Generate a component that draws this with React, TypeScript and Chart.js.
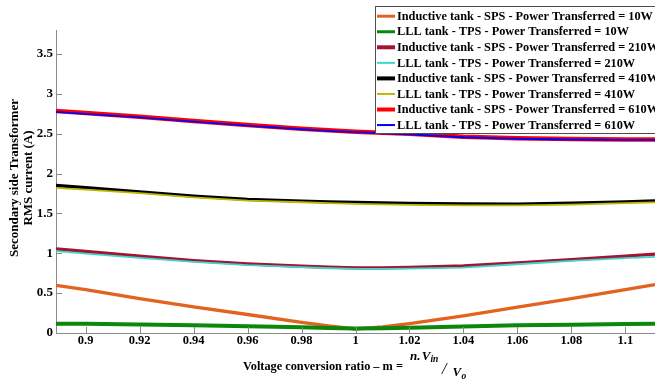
import React, { useEffect, useRef } from "react";
import { Chart, registerables } from "chart.js";

Chart.register(...registerables);

// ---- data ----
const mValues = [0.889, 0.9, 0.92, 0.94, 0.96, 0.98, 0.99, 1.0, 1.01, 1.02, 1.04, 1.06, 1.08, 1.1, 1.111];

const inductiveSps10 = [0.598, 0.545, 0.432, 0.327, 0.232, 0.134, 0.088, 0.05, 0.078, 0.118, 0.215, 0.325, 0.43, 0.545, 0.607];
const lllTps10 = [0.117, 0.115, 0.108, 0.097, 0.085, 0.071, 0.063, 0.055, 0.06, 0.067, 0.083, 0.096, 0.104, 0.113, 0.117];
const inductiveSps210 = [1.055, 1.022, 0.963, 0.908, 0.866, 0.837, 0.825, 0.816, 0.817, 0.822, 0.843, 0.879, 0.921, 0.963, 0.99];
const lllTps210 = [1.026, 0.995, 0.942, 0.892, 0.85, 0.825, 0.812, 0.804, 0.804, 0.808, 0.82, 0.862, 0.904, 0.938, 0.955];
const inductiveSps410 = [1.85, 1.822, 1.771, 1.717, 1.677, 1.655, 1.645, 1.638, 1.632, 1.625, 1.618, 1.617, 1.628, 1.645, 1.658];
const lllTps410 = [1.82, 1.798, 1.755, 1.7, 1.66, 1.64, 1.628, 1.62, 1.614, 1.607, 1.6, 1.6, 1.61, 1.628, 1.638];
const inductiveSps610 = [2.784, 2.76, 2.713, 2.659, 2.608, 2.563, 2.543, 2.525, 2.512, 2.5, 2.462, 2.441, 2.432, 2.428, 2.428];
const lllTps610 = [2.772, 2.749, 2.703, 2.65, 2.6, 2.555, 2.535, 2.518, 2.505, 2.492, 2.455, 2.436, 2.427, 2.423, 2.423];

const seriesLabels = [
  "Inductive tank - SPS - Power Transferred = 10W",
  "LLL tank - TPS - Power Transferred = 10W",
  "Inductive tank - SPS - Power Transferred = 210W",
  "LLL tank - TPS - Power Transferred = 210W",
  "Inductive tank - SPS - Power Transferred = 410W",
  "LLL tank - TPS - Power Transferred = 410W",
  "Inductive tank - SPS - Power Transferred = 610W",
  "LLL tank - TPS - Power Transferred = 610W",
];
const seriesValues = [
  inductiveSps10, lllTps10, inductiveSps210, lllTps210,
  inductiveSps410, lllTps410, inductiveSps610, lllTps610,
];
const seriesColors = ["#E2621F", "#0B880B", "#A2142F", "#3FD6CE", "#000000", "#BFB800", "#FF0000", "#0000FF"];
const seriesWidths = [3.3, 4, 3.3, 1.8, 3.3, 1.8, 4.5, 1.8];
const legendWidths = [3, 3, 4, 2, 4, 2, 4, 2];

const xTicks = [0.9, 0.92, 0.94, 0.96, 0.98, 1, 1.02, 1.04, 1.06, 1.08, 1.1];
const yTicks = [0, 0.5, 1, 1.5, 2, 2.5, 3, 3.5];

const xMin = 0.889;
const xMax = 1.111;
const yMin = 0;
const yMax = 3.8;

const yTitleLines = ["Secondary side Transformer", "RMS current (A)"];
const xTitleMain = "Voltage conversion ratio \u2013 m = ";

const FONT = '"Liberation Serif", "Times New Roman", serif';

const fmt = (v: number) => String(Number(v.toFixed(3)));

const decorPlugin = {
  id: "decor",
  afterDraw(chart: any) {
    const ctx: CanvasRenderingContext2D = chart.ctx;
    const { left, bottom } = chart.chartArea;
    const xs = chart.scales.x;
    const ys = chart.scales.y;
    ctx.save();

    // inward tick marks
    ctx.strokeStyle = "#8a8a8a";
    ctx.lineWidth = 1;
    ctx.beginPath();
    for (const v of xTicks) {
      const px = Math.round(xs.getPixelForValue(v)) + 0.5;
      ctx.moveTo(px, bottom);
      ctx.lineTo(px, bottom - 6);
    }
    for (const v of yTicks) {
      const py = Math.round(ys.getPixelForValue(v)) + 0.5;
      ctx.moveTo(left, py);
      ctx.lineTo(left + 6, py);
    }
    ctx.stroke();

    ctx.fillStyle = "#000";

    // y axis title (two lines, rotated)
    ctx.save();
    ctx.translate(15, 178);
    ctx.rotate(-Math.PI / 2);
    ctx.font = `bold 13px ${FONT}`;
    ctx.textAlign = "center";
    ctx.textBaseline = "middle";
    ctx.fillText(yTitleLines[0], 0, 0);
    ctx.fillText(yTitleLines[1], 0, 13.5);
    ctx.restore();

    // x axis title with fraction
    ctx.textAlign = "left";
    ctx.textBaseline = "alphabetic";
    ctx.font = `bold 12.3px ${FONT}`;
    ctx.fillText(xTitleMain, 243, 369.5);
    const x0 = 243 + ctx.measureText(xTitleMain).width + 4;
    ctx.font = `italic bold 13px ${FONT}`;
    ctx.fillText("n.", x0, 360);
    ctx.fillText("V", x0 + 11.7, 360);
    ctx.font = `italic bold 9.5px ${FONT}`;
    ctx.fillText("in", x0 + 20.5, 362);
    ctx.font = `italic 16px ${FONT}`;
    ctx.fillText("/", x0 + 32, 373.5);
    ctx.font = `italic bold 13px ${FONT}`;
    ctx.fillText("V", x0 + 42.5, 376);
    ctx.font = `italic bold 9.5px ${FONT}`;
    ctx.fillText("o", x0 + 51.5, 378.5);

    // legend box
    const bx = 375.5;
    const by = 6.5;
    const bw = 300;
    const bh = 127;
    ctx.fillStyle = "#ffffff";
    ctx.fillRect(bx, by, bw, bh);
    ctx.strokeStyle = "#4d4d4d";
    ctx.lineWidth = 1;
    ctx.strokeRect(bx, by, bw, bh);
    ctx.font = `bold 12.3px ${FONT}`;
    ctx.textBaseline = "middle";
    for (let i = 0; i < seriesLabels.length; i++) {
      const cy = 16.2 + i * 15.55;
      ctx.strokeStyle = seriesColors[i];
      ctx.lineWidth = legendWidths[i];
      ctx.beginPath();
      ctx.moveTo(377, cy);
      ctx.lineTo(395, cy);
      ctx.stroke();
      ctx.fillStyle = "#000";
      ctx.fillText(seriesLabels[i], 397, cy + 0.5);
    }
    ctx.restore();
  },
};

export default function App() {
  const ref = useRef<HTMLCanvasElement>(null);
  useEffect(() => {
    const canvas = ref.current;
    if (!canvas) return;
    const datasets = seriesValues.map((vals, i) => ({
      label: seriesLabels[i],
      data: vals.map((v, j) => ({ x: mValues[j], y: v })),
      borderColor: seriesColors[i],
      backgroundColor: seriesColors[i],
      borderWidth: seriesWidths[i],
      pointRadius: 0,
      tension: 0,
      fill: false,
      order: seriesValues.length - 1 - i,
    }));
    const chart = new Chart(canvas, {
      type: "line",
      data: { datasets },
      options: {
        animation: false,
        responsive: false,
        devicePixelRatio: 1,
        layout: { padding: { top: 30, left: 0, right: 0, bottom: 0 } },
        plugins: { legend: { display: false }, tooltip: { enabled: false } },
        scales: {
          x: {
            type: "linear",
            min: xMin,
            max: xMax,
            grid: { display: false, drawTicks: false },
            border: { display: true, color: "#8a8a8a", width: 1 },
            afterBuildTicks: (s: any) => {
              s.ticks = xTicks.map((v) => ({ value: v }));
            },
            afterFit: (s: any) => {
              s.height = 48;
            },
            ticks: {
              autoSkip: false,
              maxRotation: 0,
              padding: 0,
              color: "#000",
              font: { family: FONT, size: 12.5, weight: "bold" },
              callback: (v: any) => fmt(Number(v)),
            },
          },
          y: {
            type: "linear",
            min: yMin,
            max: yMax,
            grid: { display: false, drawTicks: false },
            border: { display: true, color: "#8a8a8a", width: 1 },
            afterBuildTicks: (s: any) => {
              s.ticks = yTicks.map((v) => ({ value: v }));
            },
            afterFit: (s: any) => {
              s.width = 56;
            },
            ticks: {
              autoSkip: false,
              padding: 3,
              color: "#000",
              font: { family: FONT, size: 13, weight: "bold" },
              callback: (v: any) => fmt(Number(v)),
            },
          },
        },
      },
      plugins: [decorPlugin],
    } as any);
    return () => chart.destroy();
  }, []);
  return (
    <canvas
      ref={ref}
      width={655}
      height={381}
      style={{ position: "fixed", left: 0, top: 0, width: 655, height: 381, background: "#fff" }}
    />
  );
}
